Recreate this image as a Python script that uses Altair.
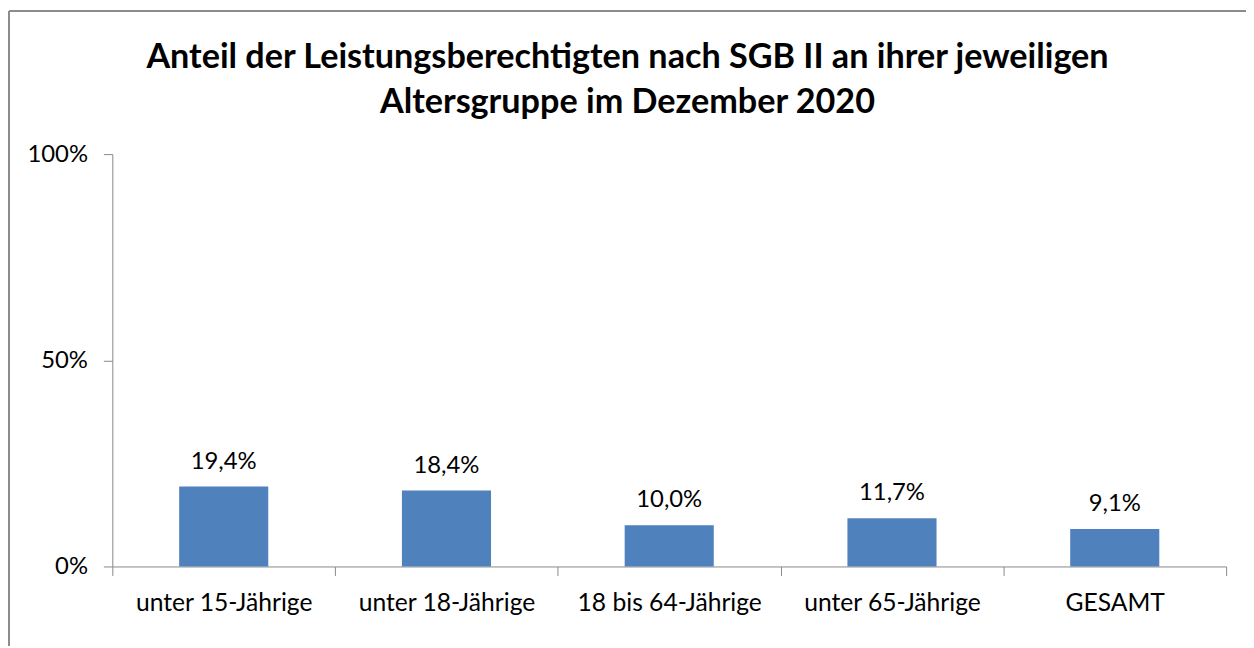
import altair as alt
import pandas as pd

categories = ["unter 15-Jährige", "unter 18-Jährige", "18 bis 64-Jährige", "unter 65-Jährige", "GESAMT"]
values = [0.194, 0.184, 0.100, 0.117, 0.091]
value_labels = ["19,4%", "18,4%", "10,0%", "11,7%", "9,1%"]
title_lines = ["Anteil der Leistungsberechtigten nach SGB II an ihrer jeweiligen",
               "Altersgruppe im Dezember 2020"]
y_ticks = [0, 0.5, 1]

df = pd.DataFrame({"cat": categories, "val": values, "lab": value_labels})

W, H = 1121, 415
PL, PT, PR, PB = 105, 145, 20, 80
FONT = "Lato"

xscale = alt.Scale(domain=categories, paddingInner=0, paddingOuter=0)
yscale = alt.Scale(domain=[0, 1])

x_enc = alt.X("cat:N", sort=categories, scale=xscale, title=None,
              axis=alt.Axis(labelAngle=0, tickBand="extent", tickSize=9,
                            labelPadding=15, labelFontSize=24.8, labelFont=FONT,
                            labelLimit=400, labelColor="black", domainColor="#888888",
                            tickColor="#888888", grid=False))
y_enc = alt.Y("val:Q", scale=yscale, title=None,
              axis=alt.Axis(values=y_ticks, format=".0%", tickSize=9,
                            labelPadding=16, labelFontSize=24, labelFont=FONT,
                            labelColor="black", domainColor="#888888",
                            tickColor="#888888", grid=False))

bars = alt.Chart(df).mark_bar(color="#4F81BD", width=alt.RelativeBandSize(0.4)).encode(x=x_enc, y=y_enc)
labels = alt.Chart(df).mark_text(font=FONT, fontSize=24, color="black",
                                 baseline="alphabetic", dy=-18).encode(
    x=alt.X("cat:N", sort=categories, scale=xscale),
    y=alt.Y("val:Q", scale=yscale),
    text="lab:N")

border_df = pd.DataFrame({"k": [0]})
left_border = alt.Chart(border_df).mark_rule(color="#8c8c8c", strokeWidth=2).encode(
    x=alt.value(-PL + 1), y=alt.value(-PT + 1), y2=alt.value(H + PB))
top_border = alt.Chart(border_df).mark_rule(color="#8c8c8c", strokeWidth=2).encode(
    x=alt.value(-PL + 1), x2=alt.value(W + PR), y=alt.value(-PT + 1))

chart = alt.layer(bars, labels, left_border, top_border).properties(
    width=W, height=H,
    padding={"left": PL, "top": PT, "right": PR, "bottom": PB},
    autosize=alt.AutoSizeParams(type="none"),
    view=alt.ViewBackground(stroke=None),
    title=alt.TitleParams(title_lines, anchor="middle", frame="group", fontSize=34.4,
                          font=FONT, fontWeight="bold", color="black", dx=-42,
                          offset=0, dy=111, lineHeight=45),
).configure_view(stroke=None)

chart.save("out.html", embed_options={"renderer": "svg", "actions": False})
